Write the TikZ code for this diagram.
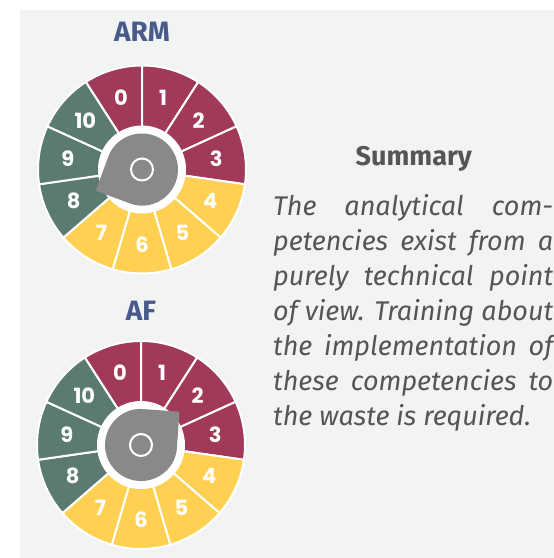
\documentclass[tikz,border=0pt]{standalone}
\usepackage{fontspec}
\setmainfont{Fira Sans}
\newfontfamily\numfont{Poppins}
\usepackage{xcolor}
\definecolor{panelGray}{RGB}{242,243,243}
\definecolor{armRed}{RGB}{161,57,89}
\definecolor{armYellow}{RGB}{255,208,82}
\definecolor{armGreen}{RGB}{91,123,114}
\definecolor{dialGray}{RGB}{137,137,137}
\definecolor{titleBlue}{RGB}{72,91,139}
\definecolor{textGray}{RGB}{85,85,85}

\begin{document}
\begin{tikzpicture}[x=1pt,y=1pt,
  num/.style={font=\numfont\bfseries\fontsize{21}{21}\selectfont, text=white, inner sep=0pt},
  title/.style={font=\bfseries\fontsize{28}{28}\selectfont, text=titleBlue},
  body/.style={font=\itshape\fontsize{27}{35}\selectfont, text=textGray, anchor=base west, inner sep=0pt}]
\newcommand\Wedge[3]{\filldraw [fill=#3, draw=white, line width=2pt] (#1) -- ++(#2:104) arc [start angle=#2, delta angle=-32.73, radius=104] -- cycle;}
\newcommand\Num[3]{\path (#1) ++(#2:75) node [num] (#1-#3) {#3};}
\newcommand\Dial[2]{\fill [white] (#1) circle (44);
  \begin{scope}[shift={(#1)}, rotate=#2]
  \fill [dialGray, rounded corners=1pt] (50.9,0) -- (45:36) arc [start angle=45, end angle=315, radius=36] -- cycle;
  \end{scope}
  \draw [white, line width=2pt] (#1) circle (11);}
\useasboundingbox (0,0) rectangle (554,558);
\fill [panelGray] (20,0) rectangle (554,548);

% ARM dial
\coordinate (arm) at (142,388.5);
\node [title] (armTitle) at (142,526.3) {ARM};
\Wedge{arm}{122.73}{armRed}
\Wedge{arm}{90}{armRed}
\Wedge{arm}{57.27}{armRed}
\Wedge{arm}{24.55}{armRed}
\Wedge{arm}{-8.18}{armYellow}
\Wedge{arm}{-40.91}{armYellow}
\Wedge{arm}{-73.64}{armYellow}
\Wedge{arm}{-106.36}{armYellow}
\Wedge{arm}{-139.09}{armGreen}
\Wedge{arm}{-171.82}{armGreen}
\Wedge{arm}{-204.55}{armGreen}
\Num{arm}{106.36}{0}
\Num{arm}{73.64}{1}
\Num{arm}{40.91}{2}
\Num{arm}{8.18}{3}
\Num{arm}{-24.55}{4}
\Num{arm}{-57.27}{5}
\Num{arm}{-90}{6}
\Num{arm}{-122.73}{7}
\Num{arm}{-155.45}{8}
\Num{arm}{-188.18}{9}
\Num{arm}{-220.91}{10}
\Dial{arm}{204.55}

% AF dial
\coordinate (af) at (141,113);
\node [title] (afTitle) at (141,247.5) {AF};
\Wedge{af}{122.73}{armRed}
\Wedge{af}{90}{armRed}
\Wedge{af}{57.27}{armRed}
\Wedge{af}{24.55}{armRed}
\Wedge{af}{-8.18}{armYellow}
\Wedge{af}{-40.91}{armYellow}
\Wedge{af}{-73.64}{armYellow}
\Wedge{af}{-106.36}{armYellow}
\Wedge{af}{-139.09}{armGreen}
\Wedge{af}{-171.82}{armGreen}
\Wedge{af}{-204.55}{armGreen}
\Num{af}{106.36}{0}
\Num{af}{73.64}{1}
\Num{af}{40.91}{2}
\Num{af}{8.18}{3}
\Num{af}{-24.55}{4}
\Num{af}{-57.27}{5}
\Num{af}{-90}{6}
\Num{af}{-122.73}{7}
\Num{af}{-155.45}{8}
\Num{af}{-188.18}{9}
\Num{af}{-220.91}{10}
\Dial{af}{40.91}

% summary text
\node [font=\bfseries\fontsize{27}{27}\selectfont, text=textGray, anchor=base] (summary) at (413.8,392) {Summary};
\node [body] (line1) at (273,342) {\makebox[280pt][s]{The analytical com-}};
\node [body] (line2) at (273,307) {\makebox[280pt][s]{petencies exist from a}};
\node [body] (line3) at (273,272) {\makebox[280pt][s]{purely technical point}};
\node [body] (line4) at (273,237) {\makebox[280pt][s]{of view. Training about}};
\node [body] (line5) at (273,202) {\makebox[280pt][s]{the implementation of}};
\node [body] (line6) at (273,167) {\makebox[280pt][s]{these competencies to}};
\node [body] (line7) at (273,132) {the waste is required.};
\end{tikzpicture}
\end{document}
